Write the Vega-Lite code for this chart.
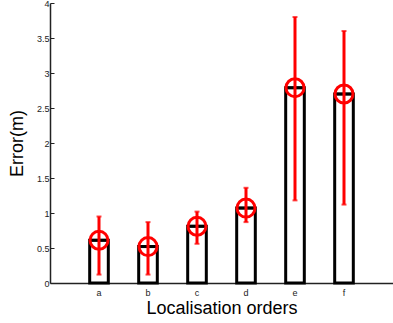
{
  "$schema": "https://vega.github.io/schema/vega-lite/v6.json",
  "width": 343,
  "height": 280,
  "autosize": {"type": "none"},
  "padding": {"left": 50, "top": 3, "right": 0, "bottom": 40},
  "config": {"view": {"stroke": null}, "font": "Liberation Sans"},
  "data": {"values": [
    {"order": "a", "mean": 0.61, "lo": 0.12, "hi": 0.95},
    {"order": "b", "mean": 0.52, "lo": 0.12, "hi": 0.87},
    {"order": "c", "mean": 0.81, "lo": 0.56, "hi": 1.02},
    {"order": "d", "mean": 1.07, "lo": 0.87, "hi": 1.36},
    {"order": "e", "mean": 2.79, "lo": 1.18, "hi": 3.8},
    {"order": "f", "mean": 2.70, "lo": 1.12, "hi": 3.6}
  ]},
  "encoding": {
    "x": {
      "field": "order", "type": "nominal",
      "scale": {"paddingInner": 0.62, "paddingOuter": 0.81},
      "axis": {
        "title": "Localisation orders", "titleFontSize": 18, "titleFontWeight": "normal",
        "titleColor": "#000", "titlePadding": 2,
        "labelAngle": 0, "labelFontSize": 9, "labelColor": "#222", "labelPadding": 5,
        "ticks": false, "domainColor": "#222", "domainWidth": 1.5
      }
    }
  },
  "layer": [
    {
      "mark": {"type": "bar", "fill": "white", "stroke": "black", "strokeWidth": 3},
      "encoding": {
        "y": {
          "field": "mean", "type": "quantitative", "title": "Error(m)",
          "scale": {"domain": [0, 4], "nice": false},
          "axis": {
            "title": "Error(m)", "titleFontSize": 18, "titleFontWeight": "normal",
            "titleColor": "#000", "titlePadding": 10,
            "values": [0, 0.5, 1, 1.5, 2, 2.5, 3, 3.5, 4], "format": "~g",
            "labelOverlap": false, "labelFlush": false,
            "labelFontSize": 9, "labelColor": "#222", "labelPadding": 5,
            "tickSize": -4, "tickColor": "#222", "tickWidth": 1, "grid": false,
            "domainColor": "#222", "domainWidth": 1.5
          }
        }
      }
    },
    {
      "mark": {"type": "tick", "color": "black", "thickness": 3, "size": 16},
      "encoding": {"y": {"field": "mean", "type": "quantitative", "title": "Error(m)",
          "axis": {
            "title": "Error(m)", "titleFontSize": 18, "titleFontWeight": "normal",
            "titleColor": "#000", "titlePadding": 10,
            "values": [0, 0.5, 1, 1.5, 2, 2.5, 3, 3.5, 4], "format": "~g",
            "labelOverlap": false, "labelFlush": false,
            "labelFontSize": 9, "labelColor": "#222", "labelPadding": 5,
            "tickSize": -4, "tickColor": "#222", "tickWidth": 1, "grid": false,
            "domainColor": "#222", "domainWidth": 1.5
          }}}
    },
    {
      "mark": {"type": "rule", "color": "#ff0000", "strokeWidth": 3},
      "encoding": {
        "y": {"field": "lo", "type": "quantitative", "title": "Error(m)",
          "axis": {
            "title": "Error(m)", "titleFontSize": 18, "titleFontWeight": "normal",
            "titleColor": "#000", "titlePadding": 10,
            "values": [0, 0.5, 1, 1.5, 2, 2.5, 3, 3.5, 4], "format": "~g",
            "labelOverlap": false, "labelFlush": false,
            "labelFontSize": 9, "labelColor": "#222", "labelPadding": 5,
            "tickSize": -4, "tickColor": "#222", "tickWidth": 1, "grid": false,
            "domainColor": "#222", "domainWidth": 1.5
          }},
        "y2": {"field": "hi"}
      }
    },
    {
      "mark": {"type": "tick", "color": "#ff0000", "thickness": 2, "size": 5},
      "encoding": {"y": {"field": "lo", "type": "quantitative", "title": "Error(m)",
          "axis": {
            "title": "Error(m)", "titleFontSize": 18, "titleFontWeight": "normal",
            "titleColor": "#000", "titlePadding": 10,
            "values": [0, 0.5, 1, 1.5, 2, 2.5, 3, 3.5, 4], "format": "~g",
            "labelOverlap": false, "labelFlush": false,
            "labelFontSize": 9, "labelColor": "#222", "labelPadding": 5,
            "tickSize": -4, "tickColor": "#222", "tickWidth": 1, "grid": false,
            "domainColor": "#222", "domainWidth": 1.5
          }}}
    },
    {
      "mark": {"type": "tick", "color": "#ff0000", "thickness": 2, "size": 5},
      "encoding": {"y": {"field": "hi", "type": "quantitative", "title": "Error(m)",
          "axis": {
            "title": "Error(m)", "titleFontSize": 18, "titleFontWeight": "normal",
            "titleColor": "#000", "titlePadding": 10,
            "values": [0, 0.5, 1, 1.5, 2, 2.5, 3, 3.5, 4], "format": "~g",
            "labelOverlap": false, "labelFlush": false,
            "labelFontSize": 9, "labelColor": "#222", "labelPadding": 5,
            "tickSize": -4, "tickColor": "#222", "tickWidth": 1, "grid": false,
            "domainColor": "#222", "domainWidth": 1.5
          }}}
    },
    {
      "mark": {"type": "point", "shape": "circle", "filled": false, "color": "#ff0000", "strokeWidth": 3, "size": 324, "opacity": 1},
      "encoding": {"y": {"field": "mean", "type": "quantitative", "title": "Error(m)",
          "axis": {
            "title": "Error(m)", "titleFontSize": 18, "titleFontWeight": "normal",
            "titleColor": "#000", "titlePadding": 10,
            "values": [0, 0.5, 1, 1.5, 2, 2.5, 3, 3.5, 4], "format": "~g",
            "labelOverlap": false, "labelFlush": false,
            "labelFontSize": 9, "labelColor": "#222", "labelPadding": 5,
            "tickSize": -4, "tickColor": "#222", "tickWidth": 1, "grid": false,
            "domainColor": "#222", "domainWidth": 1.5
          }}}
    }
  ]
}
